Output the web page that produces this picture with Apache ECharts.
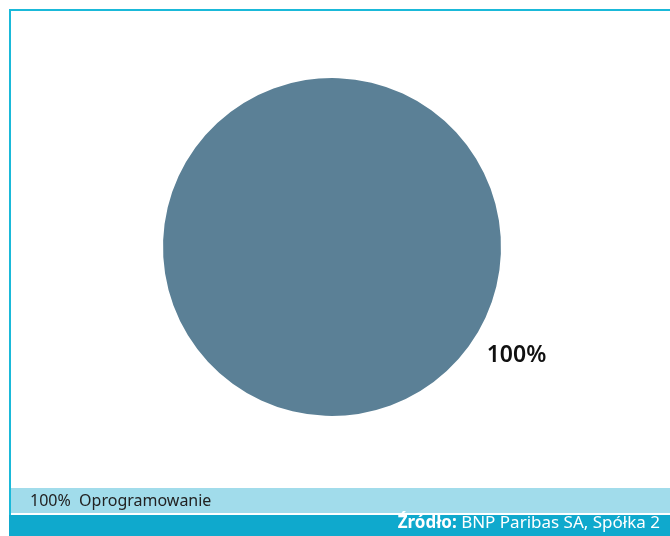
<!DOCTYPE html>
<html>
<head>
<meta charset="utf-8">
<script src="https://cdn.jsdelivr.net/npm/echarts@6/dist/echarts.min.js"></script>
<style>html,body{margin:0;padding:0;background:#fff}#c{width:670px;height:536px}</style>
</head>
<body>
<div id="c"></div>
<script>
const categories = ['Oprogramowanie'];
const values = [100];
const sourceBold = 'Źródło:';
const sourceText = ' BNP Paribas SA, Spółka 2';

const chart = echarts.init(document.getElementById('c'), null, {renderer: 'canvas'});
const data = categories.map((n, i) => ({name: n, value: values[i]}));
const total = values.reduce((a, b) => a + b, 0);
const font = '"Noto Sans", sans-serif';
chart.setOption({
  animation: false,
  color: ['#5b8096'],
  graphic: [
    {type: 'rect', shape: {x: 10, y: 9, width: 660, height: 2}, style: {fill: '#1ab9d9'}, z: 0},
    {type: 'rect', shape: {x: 9, y: 9, width: 2, height: 527}, style: {fill: '#1ab9d9'}, z: 0},
    {type: 'rect', shape: {x: 11, y: 488, width: 659, height: 25}, style: {fill: '#a1dceb'}, z: 0},
    {type: 'rect', shape: {x: 9, y: 515, width: 661, height: 21}, style: {fill: '#0fa9cd'}, z: 0},
    {type: 'text', right: 10, top: 515, z: 5, style: {
      rich: {b: {fontWeight: 'bold', fontSize: 17, fill: '#fff', fontFamily: font}, n: {fontSize: 17, fill: '#fff', fontFamily: font}},
      text: '{b|' + sourceBold + '}{n|' + sourceText + '}'
    }}
  ],
  legend: {
    left: 25, top: 491, icon: 'none', itemWidth: 0, itemGap: 20, padding: [2, 0, 2, 0],
    textStyle: {fontSize: 16, color: '#222', fontFamily: font, padding: 0},
    formatter: name => {
      const d = data.find(x => x.name === name);
      return Math.round(d.value / total * 100) + '%  ' + name;
    }
  },
  series: [{
    type: 'pie',
    center: [332, 247],
    radius: 169,
    startAngle: 144,
    data: data,
    label: {
      show: true, position: 'outside', formatter: '{d}%',
      fontSize: 23, fontWeight: 600, color: '#111', fontFamily: font
    },
    labelLine: {show: false, length: 16, length2: 0},
    emphasis: {disabled: true}
  }]
});
</script>
</body>
</html>
